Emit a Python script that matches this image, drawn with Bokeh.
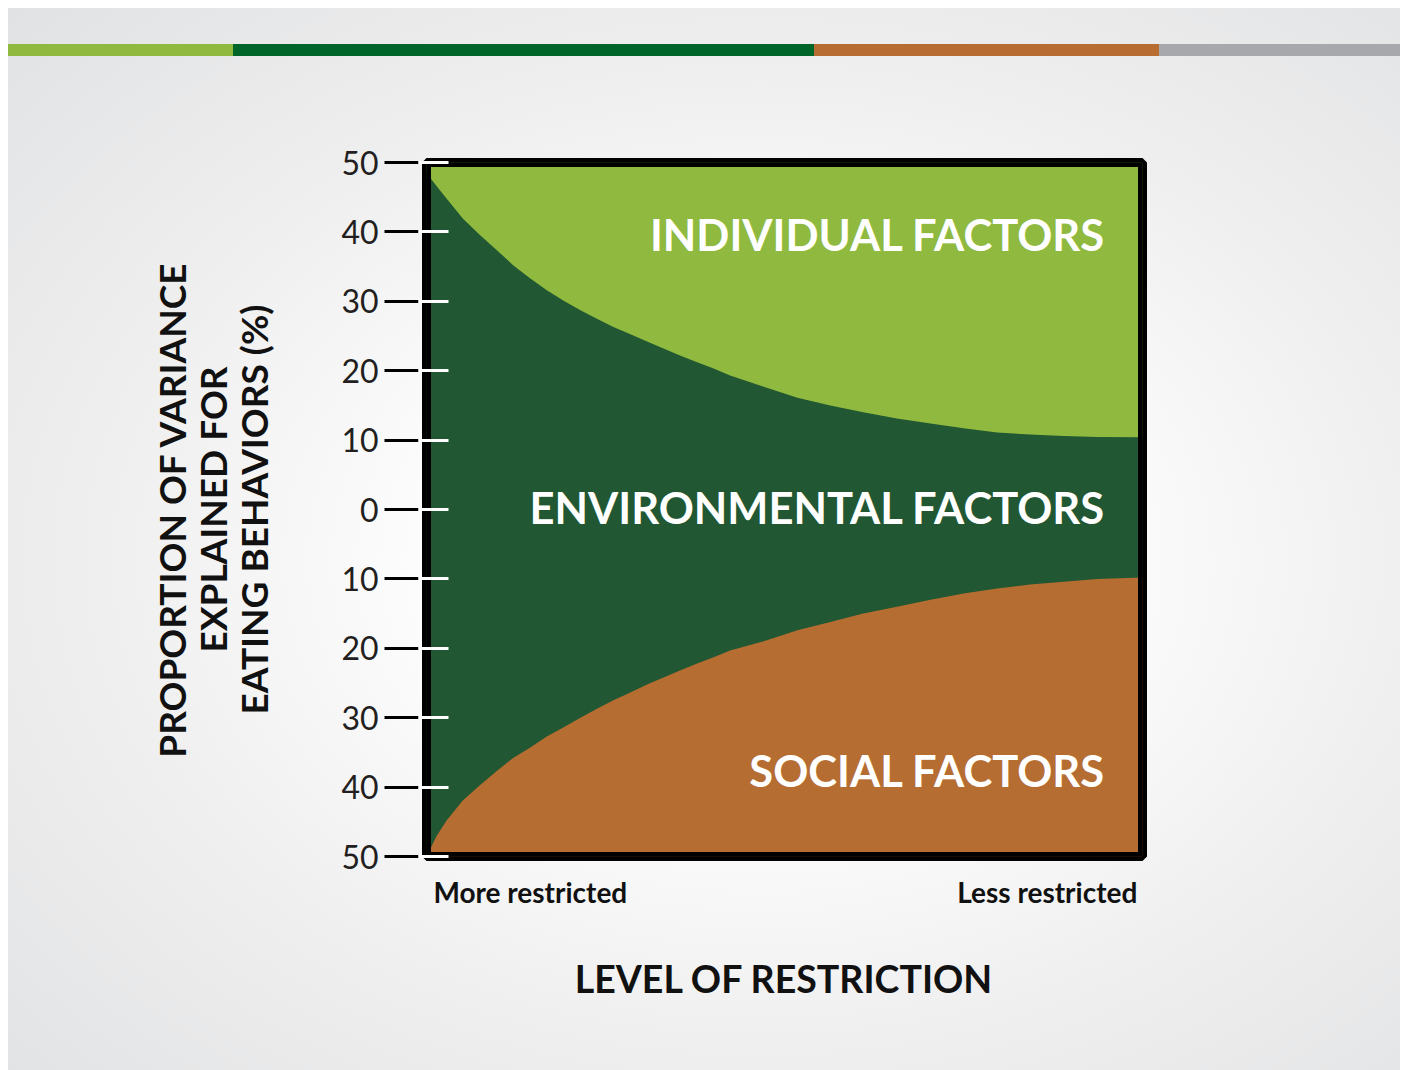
from bokeh.plotting import figure
from bokeh.models import Range1d, LinearAxis, FixedTicker, Label, BoxAnnotation
from bokeh.embed import file_html
from bokeh.resources import INLINE

# ---- data ----
restriction = [0, 1.4, 2.8, 5.1, 7.5, 9.9, 12.1, 14.5, 16.8, 19.1, 21.5, 23.8, 26.1,
               28.4, 30.8, 33.1, 35.4, 37.8, 40.1, 42.4, 47.1, 51.8, 56.4, 61.0, 65.7,
               70.4, 75.0, 79.7, 84.3, 89.0, 93.7, 100]
individual_edge = [48.5, 46.6, 44.8, 41.9, 39.5, 37.3, 35.2, 33.3, 31.6, 30.1, 28.7,
                   27.5, 26.3, 25.3, 24.2, 23.2, 22.2, 21.2, 20.3, 19.3, 17.7, 16.1,
                   15.0, 14.0, 13.1, 12.4, 11.7, 11.1, 10.8, 10.6, 10.45, 10.4]
social_edge = [-50.0, -47.1, -44.8, -41.9, -39.7, -37.6, -35.8, -34.3, -32.7, -31.4,
               -30.0, -28.7, -27.5, -26.4, -25.2, -24.2, -23.2, -22.2, -21.3, -20.3,
               -19.0, -17.4, -16.2, -15.0, -14.0, -13.0, -12.1, -11.4, -10.8, -10.4,
               -10.0, -9.8]
y_ticks = [-50, -40, -30, -20, -10, 0, 10, 20, 30, 40, 50]
y_tick_labels = [str(abs(t)) for t in y_ticks]
region_names = ["INDIVIDUAL FACTORS", "ENVIRONMENTAL FACTORS", "SOCIAL FACTORS"]
region_label_y = [39.7, 0.3, -37.5]
x_end_labels = ["More restricted", "Less restricted"]
x_end_label_pos = [14.5, 86.7]

LIGHT_GREEN = "#8fba3f"
DARK_GREEN = "#215733"
ORANGE = "#b66d31"
FONT = "Lato"

bg = ("linear-gradient(to right, #8fba3f 0px 225px, #006528 225px 806px, "
      "#b76d31 806px 1151px, #a7a8ab 1151px 100%) 0px 36px / 100% 12px no-repeat, "
      "radial-gradient(ellipse at 54% 52%, #ffffff 0%, #fdfdfd 30%, #efeff0 62%, #e1e2e3 100%)")

xr = Range1d(0, 100)
yr = Range1d(-50, 50)
p = figure(width=1392, height=1062, output_backend="svg", toolbar_location=None,
           x_range=xr, y_range=yr,
           x_axis_location=None, y_axis_location=None,
           min_border_left=418, min_border_right=258,
           min_border_top=154, min_border_bottom=214,
           border_fill_color=None, background_fill_color=DARK_GREEN,
           outline_line_color="black", outline_line_width=9,
           styles={"background": bg, "margin-left": "8px", "margin-top": "8px"})
p.grid.visible = False

p.varea(x=restriction, y1=social_edge, y2=individual_edge, fill_color=DARK_GREEN)
p.varea(x=restriction, y1=individual_edge, y2=yr.end, fill_color=LIGHT_GREEN)
p.varea(x=restriction, y1=yr.start, y2=social_edge, fill_color=ORANGE)

# heavy black frame drawn above the areas
p.add_layout(BoxAnnotation(left=xr.start, right=xr.end, bottom=yr.start, top=yr.end,
                           fill_color=None, fill_alpha=0, line_color="black",
                           line_width=9, line_alpha=1))

# inner white tick marks (drawn on top of the frame)
ax_in = LinearAxis(ticker=FixedTicker(ticks=y_ticks), axis_line_color=None,
                   major_tick_in=22, major_tick_out=8,
                   major_tick_line_color="white", major_tick_line_width=3,
                   minor_tick_line_color=None,
                   major_label_overrides={t: "" for t in y_ticks},
                   major_label_text_color=None, major_label_standoff=0,
                   level="overlay")
p.add_layout(ax_in, "left")

# outer black ticks with labels
ax_out = LinearAxis(ticker=FixedTicker(ticks=y_ticks), axis_line_color=None,
                    major_tick_in=0, major_tick_out=34,
                    major_tick_line_color="black", major_tick_line_width=3,
                    minor_tick_line_color=None,
                    major_label_overrides={t: l for t, l in zip(y_ticks, y_tick_labels)},
                    major_label_text_font=FONT, major_label_text_font_size="32px",
                    major_label_text_color="#231f20", major_label_standoff=6,
                    axis_label="PROPORTION OF VARIANCE\nEXPLAINED FOR\nEATING BEHAVIORS (%)",
                    axis_label_text_font=FONT, axis_label_text_font_size="37px",
                    axis_label_text_font_style="bold", axis_label_text_color="#111111",
                    axis_label_text_line_height=0.92,
                    axis_label_standoff=62)
p.add_layout(ax_out, "left")

ax_x = LinearAxis(ticker=FixedTicker(ticks=x_end_label_pos), axis_line_color=None,
                  major_tick_line_color=None, minor_tick_line_color=None,
                  major_label_overrides={t: l for t, l in zip(x_end_label_pos, x_end_labels)},
                  major_label_text_font=FONT, major_label_text_font_size="28px",
                  major_label_text_font_style="bold", major_label_text_color="#111111",
                  major_label_standoff=12,
                  axis_label="LEVEL OF RESTRICTION",
                  axis_label_text_font=FONT, axis_label_text_font_size="37.5px",
                  axis_label_text_font_style="bold", axis_label_text_color="#111111",
                  axis_label_standoff=44)
p.add_layout(ax_x, "below")

for name, yv in zip(region_names, region_label_y):
    p.add_layout(Label(x=100, y=yv, x_offset=-37, text=name, text_align="right",
                       text_baseline="middle", text_font=FONT,
                       text_font_size="43.5px", text_font_style="bold",
                       text_color="white"))

open("out.html", "w").write(file_html(p, INLINE))
